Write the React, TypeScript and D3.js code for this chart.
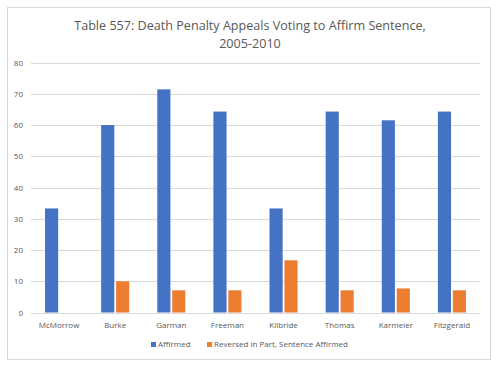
import * as d3 from 'd3';

const judges = ['McMorrow', 'Burke', 'Garman', 'Freeman', 'Kilbride', 'Thomas', 'Karmeier', 'Fitzgerald'];
const affirmed = [33.3, 60, 71.4, 64.3, 33.3, 64.3, 61.5, 64.3];
const reversedInPart = [0, 10, 7.1, 7.1, 16.7, 7.1, 7.7, 7.1];
const seriesNames = ['Affirmed', 'Reversed in Part, Sentence Affirmed'];
const yTicks = [0, 10, 20, 30, 40, 50, 60, 70, 80];

const colors = ['#4472C4', '#ED7D31'];
const font = 'Open Sans, sans-serif';
const grey = '#595959';

export default function App() {
  const width = 500;
  const height = 366;
  const left = 31;
  const right = 480;
  const top = 62.5;
  const bottom = 312.5;

  const x = d3.scaleBand().domain(judges).range([left, right]).paddingInner(0.5).paddingOuter(0.25);
  const inner = d3.scaleBand().domain(seriesNames).range([0, x.bandwidth()]).paddingInner(0.12);
  const y = d3.scaleLinear().domain([0, 80]).range([bottom, top]);

  const series = [affirmed, reversedInPart];

  return (
    <svg width={width} height={height} style={{ position: 'absolute', left: 0, top: 0 }}>
      <rect x={7.5} y={7.5} width={483} height={352} fill="#fff" stroke="#d9d9d9" />
      <text x={250} y={30} textAnchor="middle" fontFamily={font} fontSize={12.6} fill={grey}>
        Table 557: Death Penalty Appeals Voting to Affirm Sentence,
      </text>
      <text x={250} y={48} textAnchor="middle" fontFamily={font} fontSize={12.6} fill={grey}>
        2005-2010
      </text>
      {yTicks.map((t) => (
        <g key={t}>
          <line x1={left} x2={right} y1={Math.round(y(t)) + 0.5} y2={Math.round(y(t)) + 0.5} stroke="#d9d9d9" />
          <text x={23} y={y(t) + 3} textAnchor="end" fontFamily={font} fontSize={8} fill={grey}>
            {t}
          </text>
        </g>
      ))}
      {series.map((vals, si) => (
        <g key={si}>
          {judges.map((j, i) => (
            vals[i] > 0 ? (
              <rect
                key={j}
                x={(x(j) ?? 0) + (inner(seriesNames[si]) ?? 0)}
                y={y(vals[i])}
                width={inner.bandwidth()}
                height={y(0) - y(vals[i])}
                fill={colors[si]}
              />
            ) : null
          ))}
        </g>
      ))}
      {judges.map((j) => (
        <text key={j} x={(x(j) ?? 0) + x.bandwidth() / 2} y={328} textAnchor="middle" fontFamily={font} fontSize={8} fill={grey}>
          {j}
        </text>
      ))}
      <rect x={151} y={342} width={5} height={5} fill={colors[0]} />
      <text x={158} y={347} fontFamily={font} fontSize={8} fill={grey}>{seriesNames[0]}</text>
      <rect x={207} y={342} width={5} height={5} fill={colors[1]} />
      <text x={214} y={347} fontFamily={font} fontSize={8} fill={grey}>{seriesNames[1]}</text>
    </svg>
  );
}
